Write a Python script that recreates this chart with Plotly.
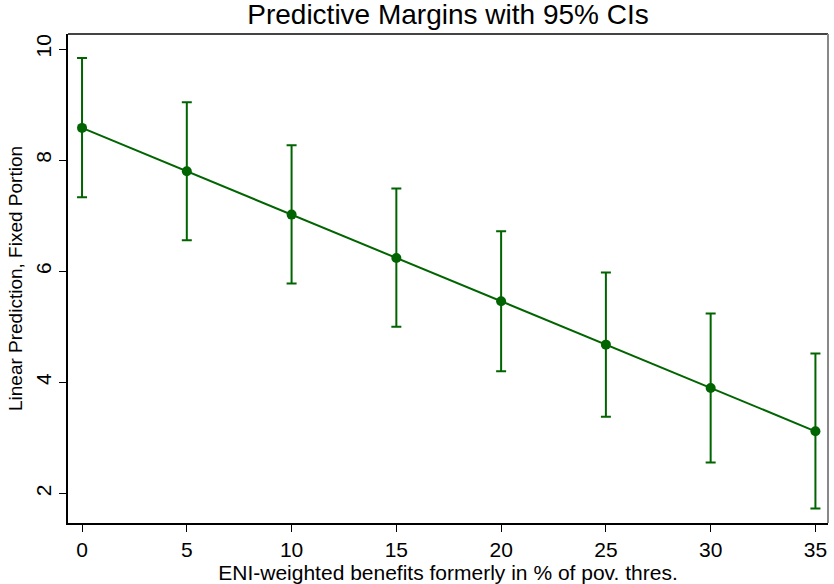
import plotly.graph_objects as go

# Predictive margins at each benefit level, with 95% confidence limits
benefit_level = [0, 5, 10, 15, 20, 25, 30, 35]
margin = [8.58, 7.80, 7.02, 6.24, 5.46, 4.68, 3.90, 3.12]
ci_lower = [7.33, 6.56, 5.78, 5.00, 4.20, 3.38, 2.56, 1.73]
ci_upper = [9.84, 9.04, 8.27, 7.49, 6.72, 5.98, 5.24, 4.52]

x_ticks = [0, 5, 10, 15, 20, 25, 30, 35]
y_ticks = [2, 4, 6, 8, 10]

GREEN = "#006400"
FONT = "Arial, Liberation Sans, sans-serif"

err_plus = [u - m for u, m in zip(ci_upper, margin)]
err_minus = [m - l for m, l in zip(margin, ci_lower)]

fig = go.Figure()
fig.add_trace(go.Scatter(
    x=benefit_level,
    y=margin,
    mode="lines+markers",
    line=dict(color=GREEN, width=2),
    marker=dict(color=GREEN, size=10),
    error_y=dict(
        type="data",
        symmetric=False,
        array=err_plus,
        arrayminus=err_minus,
        color=GREEN,
        thickness=2,
        width=5,
    ),
    showlegend=False,
))

fig.update_layout(
    width=834,
    height=584,
    margin=dict(l=68, r=6, t=34, b=61, autoexpand=False),
    paper_bgcolor="white",
    plot_bgcolor="white",
    font=dict(family=FONT, color="black"),
    title=dict(
        text="Predictive Margins with 95% CIs",
        x=0.5, xref="paper", xanchor="center",
        yref="container", y=1 - 14 / 584, yanchor="middle",
        pad=dict(t=0, b=0),
        font=dict(size=28, family=FONT, color="black"),
    ),
    xaxis=dict(
        range=[-0.67, 35.6],
        tickmode="array",
        tickvals=x_ticks,
        ticks="outside",
        ticklen=7,
        tickwidth=1,
        tickcolor="black",
        showline=True,
        linecolor="black",
        linewidth=2,
        showgrid=False,
        zeroline=False,
        automargin=False,
        tickfont=dict(size=21, family=FONT),
        title=dict(
            text="ENI-weighted benefits formerly in % of pov. thres.",
            font=dict(size=21, family=FONT),
            standoff=0,
        ),
    ),
    yaxis=dict(
        range=[1.47, 10.27],
        tickmode="array",
        tickvals=y_ticks,
        ticks="outside",
        ticklen=7,
        tickwidth=1,
        tickcolor="black",
        tickangle=-90,
        showline=True,
        linecolor="black",
        linewidth=2,
        showgrid=False,
        zeroline=False,
        automargin=False,
        tickfont=dict(size=21, family=FONT),
        title=dict(
            text="Linear Prediction, Fixed Portion",
            font=dict(size=19, family=FONT),
            standoff=4,
        ),
    ),
)

# Outline on the top and right of the plotting region
fig.add_shape(type="line", xref="paper", yref="paper",
              x0=0, x1=1, y0=1, y1=1, line=dict(color="#444444", width=2))
fig.add_shape(type="line", xref="paper", yref="paper",
              x0=1, x1=1, y0=0, y1=1, line=dict(color="#888888", width=2))

fig.write_html("out.html")
